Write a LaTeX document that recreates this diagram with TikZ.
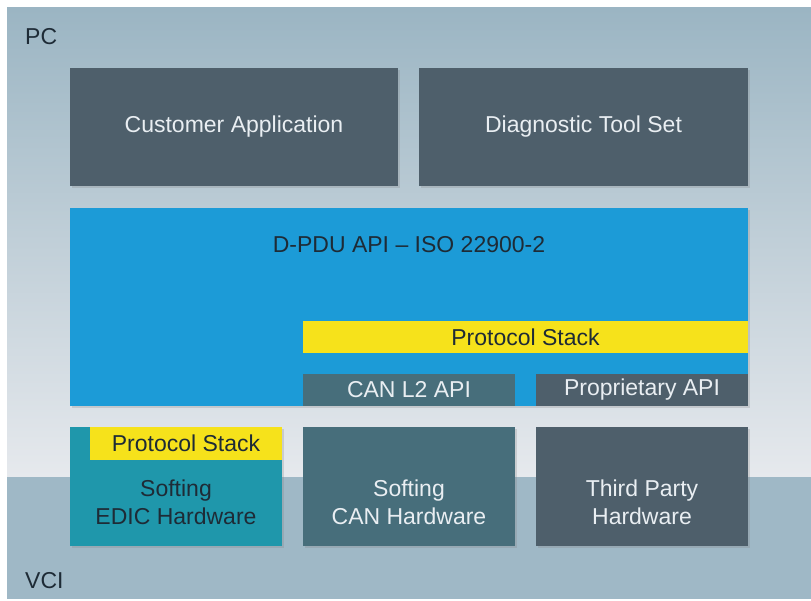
\documentclass[tikz,border=0pt]{standalone}
\usepackage{fontspec}
\setmainfont{Liberation Sans}
\usetikzlibrary{positioning,shadows}
\definecolor{bgtop}{HTML}{9BB5C3}
\definecolor{bgbottom}{HTML}{E6E9ED}
\definecolor{vciband}{HTML}{9FB8C6}
\definecolor{slate}{HTML}{4E5F6B}
\definecolor{petrol}{HTML}{476E7B}
\definecolor{apiblue}{HTML}{1C9BD7}
\definecolor{stackyellow}{HTML}{F6E21B}
\definecolor{edicteal}{HTML}{1F97AB}
\definecolor{darkink}{HTML}{1E2B36}
\definecolor{lightink}{HTML}{E9EEF2}
\begin{document}
\begin{tikzpicture}[x=1pt,y=-1pt]
\tikzstyle{box}=[rectangle,inner sep=0pt,font=\fontsize{23}{28}\selectfont,align=center,drop shadow={shadow xshift=2pt,shadow yshift=-2pt,opacity=0.25}]
\tikzstyle{flat}=[rectangle,inner sep=0pt,font=\fontsize{23}{28}\selectfont,align=center]
\tikzstyle{txt}=[inner sep=0pt,font=\fontsize{23}{28}\selectfont,align=center]
\useasboundingbox (0,0) rectangle (811,601);
% background: PC and VCI
\fill[white] (0,0) rectangle (811,601);
\shade[top color=bgtop,bottom color=bgbottom] (7,8) rectangle (811,477);
\fill[vciband] (7,477) rectangle (811,599);
\node[txt,anchor=west,text=darkink] (pc) at (25,37) {PC};
\node[txt,anchor=west,text=darkink] (vci) at (25,581) {VCI};
% applications
\node[box,fill=slate,text=lightink,minimum width=328pt,minimum height=118pt] (cust) at (234,127) {Customer Application};
\node[box,fill=slate,text=lightink,minimum width=329pt,minimum height=118pt] (diag) at (583.5,127) {Diagnostic Tool Set};
% D-PDU API
\node[box,fill=apiblue,minimum width=678pt,minimum height=198pt] (api) at (409,307) {};
\node[txt,text=darkink] (apititle) at (409,245) {D-PDU API -- ISO 22900-2};
\node[flat,fill=stackyellow,text=darkink,minimum width=445pt,minimum height=32pt] (stack) at (525.5,337) {Protocol Stack};
\node[flat,fill=petrol,text=lightink,minimum width=212pt,minimum height=32pt] (canapi) at (409,390) {CAN L2 API};
\node[flat,fill=slate,text=lightink,minimum width=212pt,minimum height=32pt] (propapi) at (642,390) {Proprietary API};
% hardware
\node[box,fill=edicteal,minimum width=212pt,minimum height=119pt] (edic) at (176,486.5) {};
\node[flat,fill=stackyellow,text=darkink,minimum width=192pt,minimum height=33pt] (edicstack) at (186,443.5) {Protocol Stack};
\node[txt,text=darkink] (edictxt) at (176,502) {Softing\\EDIC Hardware};
\node[box,fill=petrol,minimum width=212pt,minimum height=119pt] (canhw) at (409,486.5) {};
\node[txt,text=lightink] (canhwtxt) at (409,502) {Softing\\CAN Hardware};
\node[box,fill=slate,minimum width=212pt,minimum height=119pt] (thirdhw) at (642,486.5) {};
\node[txt,text=lightink] (thirdhwtxt) at (642,502) {Third Party\\Hardware};
\end{tikzpicture}
\end{document}
